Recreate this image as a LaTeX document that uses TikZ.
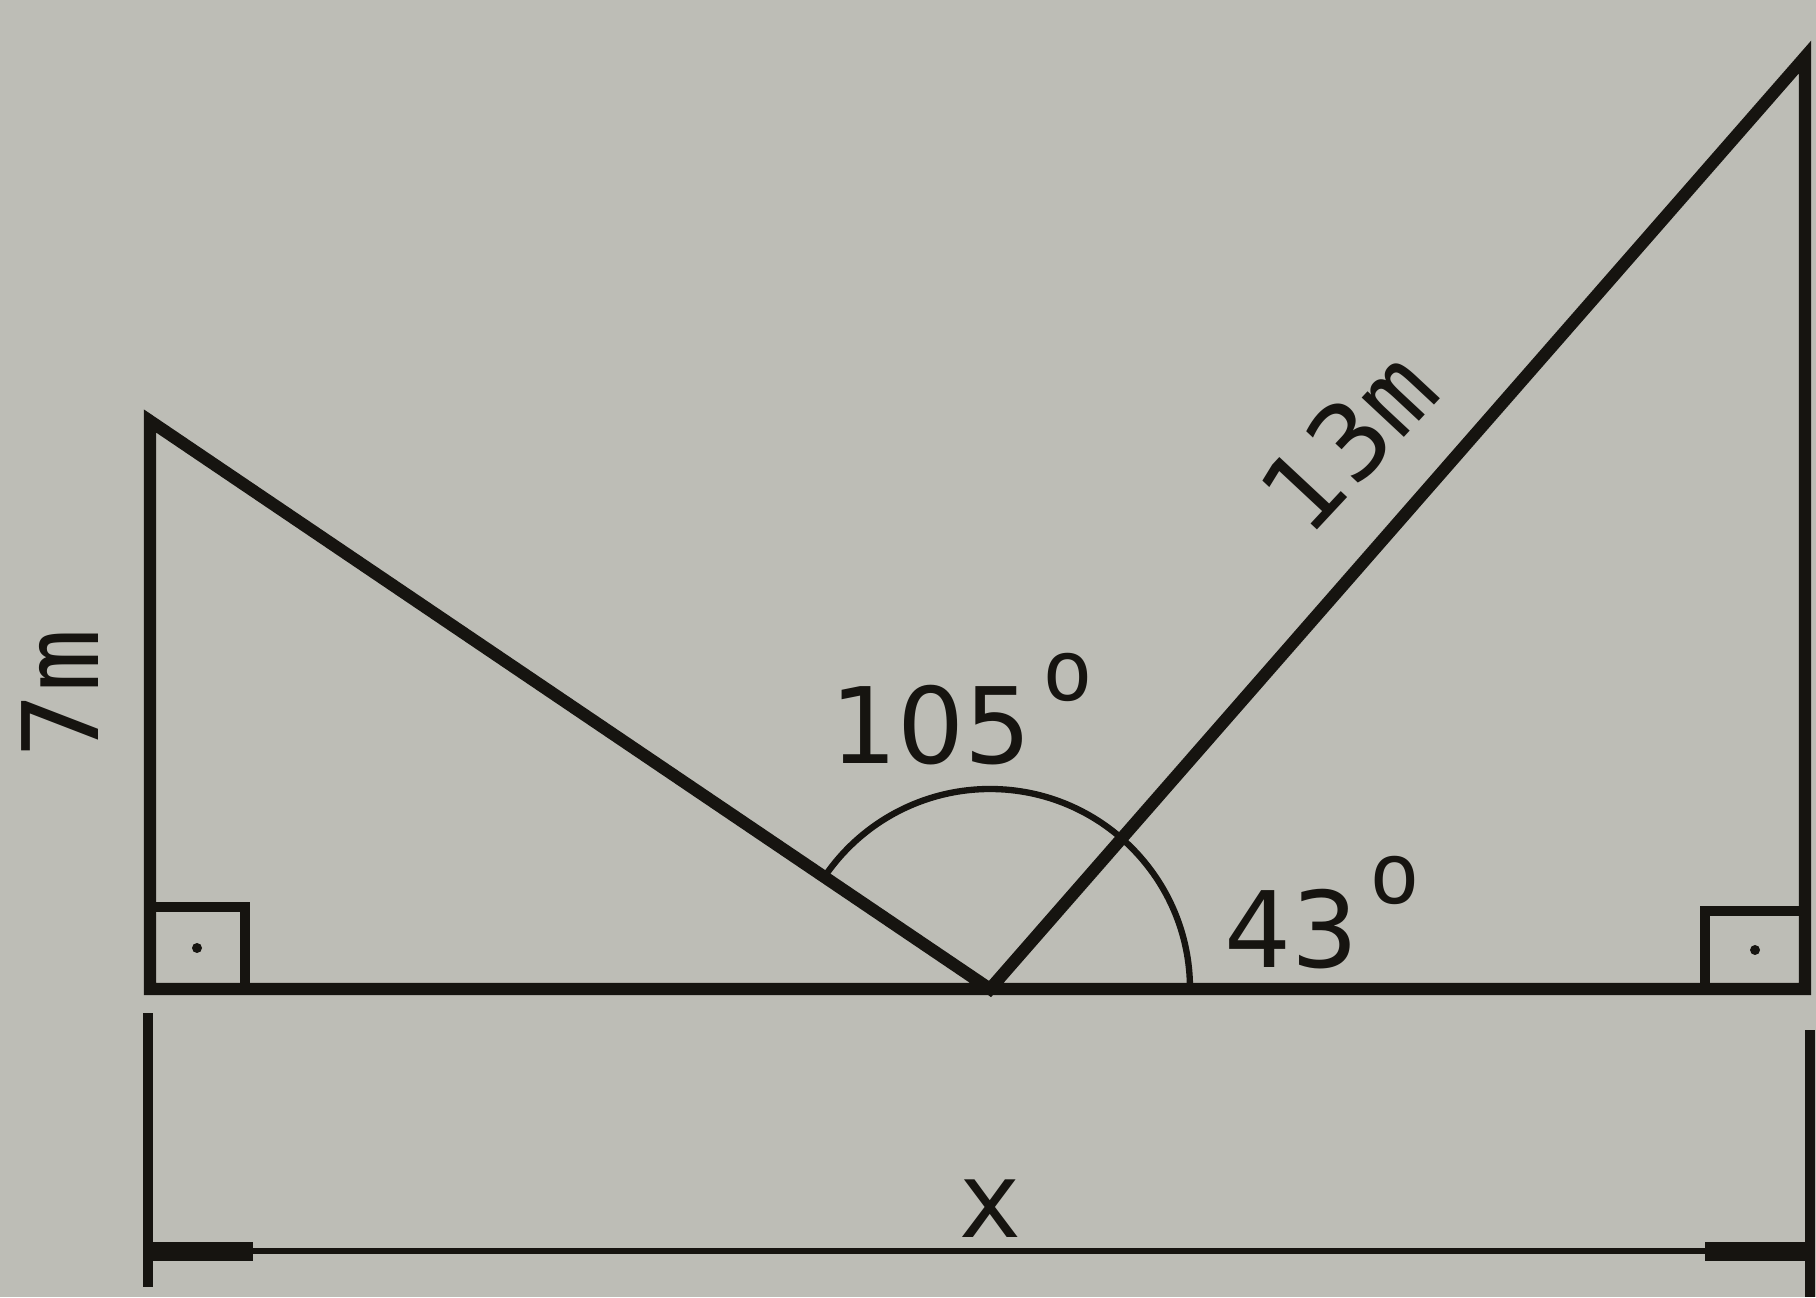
\documentclass[tikz,border=0pt]{standalone}
\usepackage{fontspec}
\newfontfamily\lblfont{DejaVu Sans Mono}
\newfontfamily\digfont{DejaVu Sans}
\usetikzlibrary{arrows.meta}
\definecolor{paper}{RGB}{189,189,182}
\definecolor{ink}{RGB}{22,20,16}
\newcommand\degring{\kern3pt\raisebox{18pt}{\lblfont\fontsize{24}{24}\selectfont o}}
\begin{document}
\begin{tikzpicture}[x=0.01cm,y=0.01cm,
  mainline/.style={draw=ink,line width=3.5pt,line join=miter},
  anglearc/.style={draw=ink,line width=1.8pt},
  rbox/.style={draw=ink,line width=2.8pt,line join=miter},
  dimline/.style={draw=ink,line width=1.6pt,arrows={Square[length=1.05cm,width=0.19cm]-Square[length=1.05cm,width=0.19cm]}},
  tickline/.style={draw=ink,line width=2.8pt},
  lbl/.style={text=ink,inner sep=0pt,font=\lblfont\fontsize{30}{36}\selectfont}]
\fill[paper] (0,0) rectangle (1816,1297);
\useasboundingbox (0,0) rectangle (1816,1297);
% main points
\coordinate (A) at (150,876);
\coordinate (B) at (150,308);
\coordinate (O) at (990,308);
\coordinate (C) at (1805,308);
\coordinate (D) at (1805,1240);
% figure
\draw[mainline] (A) -- (B) -- (C) -- (D) -- (O) -- cycle;
\draw[anglearc] ([shift={(0:200)}]O) arc[start angle=0,end angle=145.6,radius=200];
% right angle marks
\draw[rbox] (B) rectangle ++(95,82);
\fill[ink] ([shift={(47,41)}]B) circle[radius=5];
\draw[rbox] (C) rectangle ++(-100,78);
\fill[ink] ([shift={(-50,39)}]C) circle[radius=5];
% dimension
\coordinate (TL1) at (148,284);
\coordinate (TL2) at (148,10);
\coordinate (TR1) at (1810,267);
\coordinate (TR2) at (1810,0);
\coordinate (DL) at (148,46);
\coordinate (DR) at (1810,46);
\draw[tickline] (TL1) -- (TL2);
\draw[tickline] (TR1) -- (TR2);
\draw[dimline] (DL) -- (DR);
% labels
\node[lbl,anchor=base west] (l105) at (830,533) {{\digfont 105}\degring};
\node[lbl,anchor=base west] (l43) at (1224,330) {{\digfont 43}\degring};
\node[lbl,anchor=base] (lx) at (990,60) {x};
\node[lbl,anchor=base west,rotate=90] (l7) at (98,537) {{\digfont 7}m};
\node[lbl,anchor=base west,rotate=47] (l13) at (1308,757) {{\digfont 13}m};
\end{tikzpicture}
\end{document}
